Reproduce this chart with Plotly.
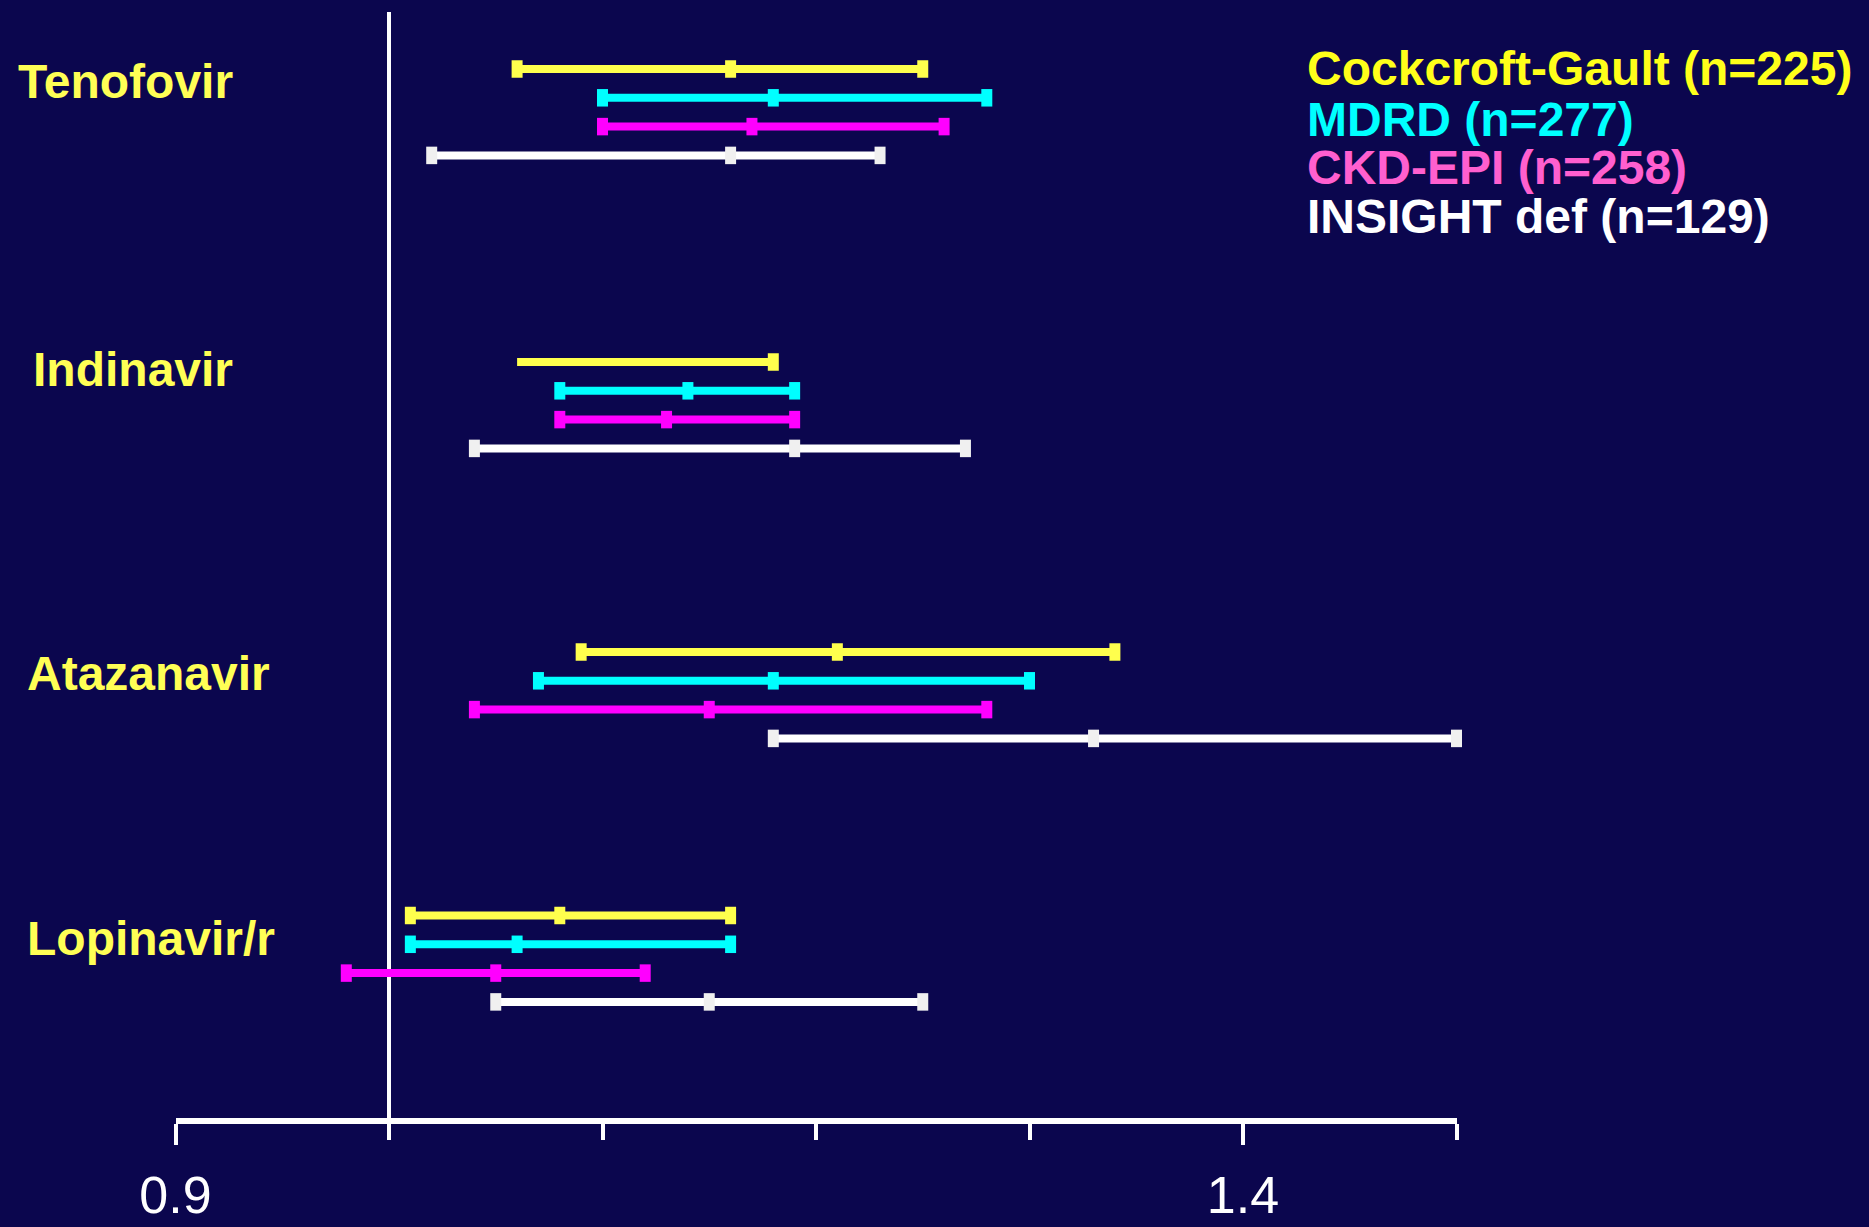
import plotly.graph_objects as go

# Forest plot: ratio estimates with 95% CI per drug, for four eGFR definitions
drugs = ["Tenofovir", "Indinavir", "Atazanavir", "Lopinavir/r"]
series = ["Cockcroft-Gault (n=225)", "MDRD (n=277)", "CKD-EPI (n=258)", "INSIGHT def (n=129)"]

# [lower, estimate, upper] for each drug, one list per definition
cg_ci = [[1.06, 1.16, 1.25], [1.06, 1.12, 1.18], [1.09, 1.21, 1.34], [1.01, 1.08, 1.16]]
mdrd_ci = [[1.10, 1.18, 1.28], [1.08, 1.14, 1.19], [1.07, 1.18, 1.30], [1.01, 1.06, 1.16]]
ckd_ci = [[1.10, 1.17, 1.26], [1.08, 1.13, 1.19], [1.04, 1.15, 1.28], [0.98, 1.05, 1.12]]
insight_ci = [[1.02, 1.16, 1.23], [1.04, 1.19, 1.27], [1.18, 1.33, 1.50], [1.05, 1.15, 1.25]]

tick_vals = [0.9, 1.4]
tick_text = ["0.9", "1.4"]
minor_ticks = [0.9, 1.0, 1.1, 1.2, 1.3, 1.4, 1.5]

# ---- styling / layout constants ----
W, H = 1869, 1227
BG = "#0b064e"
line_colors = ["#ffff4d", "#00ffff", "#ff00ff", "#ffffff"]
marker_colors = ["#ffff4d", "#00ffff", "#ff00ff", "#f0f0f0"]
legend_colors = ["#ffff1a", "#00ffff", "#ff5fcf", "#ffffff"]
label_color = "#ffff55"
BOLD = "Liberation Sans, Arial, sans-serif"
NARROW = "Liberation Sans Narrow, Arial Narrow, Liberation Sans, Arial, sans-serif"

AXIS_PX = 1118          # pixel row of the x axis line
X0_PX, X1_PX = 175.5, 1456.5
group_top = [69, 362, 652, 915.5]
row_step = 28.8

# markers drawn at (lower, estimate, upper); one row shows only its upper cap
marker_show = {(1, 0): (False, False, True)}

all_ci = [cg_ci, mdrd_ci, ckd_ci, insight_ci]

fig = go.Figure()
for s, ci_list in enumerate(all_ci):
    for g, ci in enumerate(ci_list):
        y = group_top[g] + s * row_step
        show = marker_show.get((g, s), (True, True, True))
        sizes = [12.5 if v else 0 for v in show]
        fig.add_trace(go.Scatter(
            x=ci, y=[y] * 3,
            mode="lines+markers",
            line=dict(color=line_colors[s], width=8),
            marker=dict(symbol="line-ns", size=sizes, opacity=1,
                        color=marker_colors[s],
                        line=dict(color=marker_colors[s], width=11)),
            cliponaxis=False, hoverinfo="skip", showlegend=False,
        ))

# reference line at ratio 1.0
fig.add_shape(type="line", xref="x", yref="y", x0=1.0, x1=1.0, y0=12, y1=AXIS_PX,
              line=dict(color="white", width=4), layer="below")

# drug labels
label_px = [(16, 81), (31, 370), (25, 673), (25, 938)]
for name, (lx, ly) in zip(drugs, label_px):
    fig.add_annotation(text=name, xref="paper", yref="paper",
                       x=lx / W, y=1 - ly / H, xanchor="left", yanchor="middle",
                       showarrow=False,
                       font=dict(family=BOLD, size=48, color=label_color, weight="bold"))

# legend text block
legend_px = [69, 119, 168, 217]
for name, col, ly in zip(series, legend_colors, legend_px):
    fig.add_annotation(text=name, xref="paper", yref="paper",
                       x=1305 / W, y=1 - ly / H, xanchor="left", yanchor="middle",
                       showarrow=False,
                       font=dict(family=BOLD, size=48, color=col, weight="bold"))

fig.update_layout(
    width=W, height=H,
    margin=dict(l=0, r=0, t=0, b=0, autoexpand=False),
    paper_bgcolor=BG, plot_bgcolor=BG,
    xaxis=dict(
        domain=[X0_PX / W, X1_PX / W], range=[0.9, 1.5],
        automargin=False,
        showgrid=False, zeroline=False,
        showline=True, linecolor="white", linewidth=6,
        tickmode="array", tickvals=tick_vals, ticktext=tick_text,
        ticks="outside", ticklen=21, tickwidth=4, tickcolor="white",
        ticklabelstandoff=6,
        tickfont=dict(family=NARROW, size=52, color="white"),
        minor=dict(tickvals=minor_ticks, ticks="outside", ticklen=16,
                   tickwidth=4, tickcolor="white"),
        fixedrange=True,
    ),
    yaxis=dict(
        domain=[(H - AXIS_PX) / H, 1], range=[AXIS_PX, 0],
        automargin=False, visible=False, fixedrange=True,
    ),
)

fig.write_html("out.html")
